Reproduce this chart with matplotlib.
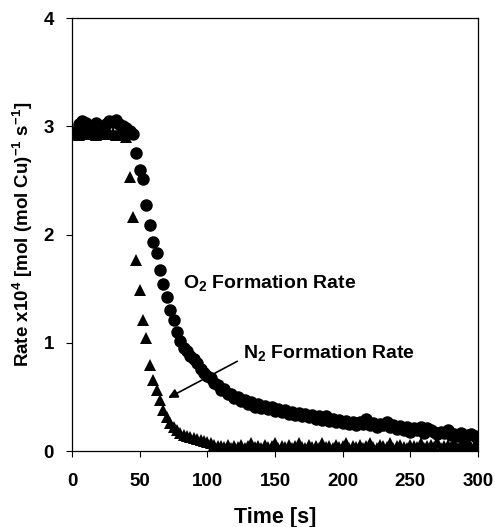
import matplotlib
matplotlib.use("Agg")
import matplotlib.pyplot as plt

plt.rcParams['font.family'] = ['Liberation Sans', 'DejaVu Sans']
plt.rcParams['font.weight'] = 'bold'
plt.rcParams['mathtext.fontset'] = 'custom'
plt.rcParams['mathtext.rm'] = 'Liberation Sans:bold'
plt.rcParams['mathtext.it'] = 'Liberation Sans:bold'
plt.rcParams['mathtext.bf'] = 'Liberation Sans:bold'
plt.rcParams['mathtext.default'] = 'rm'

# time grid [s]
time_s = [0, 2.5, 5, 7.5, 10, 12.5, 15, 17.5, 20, 22.5, 25, 27.5, 30, 32.5, 35, 37.5,
          40, 42.5, 45, 47.5, 50, 52.5, 55, 57.5, 60, 62.5, 65, 67.5, 70, 72.5, 75, 77.5,
          80, 82.5, 85, 87.5, 90, 92.5, 95, 97.5, 100, 102.5, 105, 107.5, 110, 112.5,
          115, 117.5, 120, 122.5, 125, 127.5, 130, 132.5, 135, 137.5, 140, 142.5, 145,
          147.5, 150, 152.5, 155, 157.5, 160, 162.5, 165, 167.5, 170, 172.5, 175, 177.5,
          180, 182.5, 185, 187.5, 190, 192.5, 195, 197.5, 200, 202.5, 205, 207.5, 210,
          212.5, 215, 217.5, 220, 222.5, 225, 227.5, 230, 232.5, 235, 237.5, 240, 242.5,
          245, 247.5, 250, 252.5, 255, 257.5, 260, 262.5, 265, 267.5, 270, 272.5, 275,
          277.5, 280, 282.5, 285, 287.5, 290, 292.5, 295, 297.5, 300]

# O2 formation rate x1e4
o2_rate = [2.95, 2.93, 3.02, 3.05, 3.03, 2.97, 3.00, 3.03, 2.98, 2.96, 3.02, 3.05, 3.04, 3.06,
           3.02, 3.00, 2.98, 2.96, 2.93, 2.75, 2.60, 2.51, 2.27, 2.09, 1.93, 1.83, 1.67, 1.54,
           1.42, 1.30, 1.21, 1.10, 1.02, 0.95, 0.92, 0.88, 0.85, 0.81, 0.76, 0.72, 0.69, 0.67,
           0.63, 0.61, 0.56, 0.57, 0.53, 0.53, 0.49, 0.50, 0.46, 0.47, 0.43, 0.45, 0.41, 0.43,
           0.40, 0.42, 0.39, 0.41, 0.37, 0.39, 0.36, 0.38, 0.34, 0.36, 0.33, 0.35, 0.32, 0.34,
           0.31, 0.33, 0.30, 0.32, 0.29, 0.32, 0.28, 0.30, 0.27, 0.29, 0.26, 0.28, 0.25, 0.27,
           0.24, 0.27, 0.25, 0.30, 0.24, 0.26, 0.22, 0.25, 0.24, 0.27, 0.22, 0.24, 0.20, 0.23,
           0.19, 0.22, 0.18, 0.21, 0.19, 0.22, 0.17, 0.21, 0.19, 0.18, 0.16, 0.18, 0.17, 0.19,
           0.15, 0.16, 0.14, 0.17, 0.13, 0.15, 0.16, 0.14, 0.10]

# N2 formation rate x1e4
n2_rate = [2.93, 2.95, 2.92, 2.96, 2.94, 2.93, 2.95, 2.92, 2.94, 2.96, 2.93, 2.95, 2.94, 2.92,
           2.95, 2.93, 2.90, 2.53, 2.16, 1.76, 1.49, 1.21, 1.04, 0.79, 0.66, 0.56, 0.47, 0.38,
           0.31, 0.26, 0.22, 0.19, 0.17, 0.15, 0.14, 0.13, 0.12, 0.11, 0.10, 0.09, 0.08, 0.07,
           0.06, 0.05, 0.05, 0.04, 0.06, 0.03, 0.05, 0.04, 0.06, 0.03, 0.05, 0.07, 0.04, 0.05,
           0.03, 0.06, 0.04, 0.05, 0.07, 0.03, 0.05, 0.04, 0.06, 0.03, 0.05, 0.07, 0.04, 0.03,
           0.06, 0.04, 0.05, 0.03, 0.07, 0.04, 0.05, 0.03, 0.06, 0.04, 0.05, 0.07, 0.03, 0.05,
           0.04, 0.06, 0.03, 0.05, 0.07, 0.04, 0.03, 0.06, 0.05, 0.04, 0.07, 0.03, 0.05, 0.06,
           0.04, 0.03, 0.06, 0.05, 0.04, 0.07, 0.03, 0.05, 0.06, 0.04, 0.08, 0.03, 0.05, 0.06,
           0.04, 0.07, 0.03, 0.06, 0.05, 0.08, 0.04, 0.06, 0.03]

fig = plt.figure(figsize=(4.95, 5.27), dpi=100)
ax = fig.add_axes([0.1455, 0.1442, 0.8202, 0.8216])

ax.plot(time_s, o2_rate, 'o', color='black', markersize=9, markeredgewidth=0)
ax.plot(time_s, n2_rate, '^', color='black', markersize=9, markeredgewidth=0)

ax.set_xlim(0, 300)
ax.set_ylim(0, 4)
ax.set_xticks([0, 50, 100, 150, 200, 250, 300])
ax.set_yticks([0, 1, 2, 3, 4])
ax.tick_params(axis='x', direction='out', length=4, width=0.8, pad=12, labelsize=13.5)
ax.tick_params(axis='y', direction='out', length=4, width=0.8, pad=9, labelsize=13.5)
for s in ax.spines.values():
    s.set_linewidth(0.9)

ax.set_xlabel('Time [s]', fontsize=15.5, fontweight='bold', labelpad=12)
ax.set_ylabel('Rate x10$^4$ [mol (mol Cu)$^{-1}$ s$^{-1}$]', fontsize=13.5,
              fontweight='bold', labelpad=6)

ax.text(82, 1.55, 'O$_2$ Formation Rate', fontsize=14, fontweight='bold', va='center')
ax.annotate('N$_2$ Formation Rate', xy=(71, 0.49), xytext=(126, 0.91),
            fontsize=14, fontweight='bold', va='center',
            arrowprops=dict(arrowstyle='-|>', color='black', lw=1.2,
                            mutation_scale=14, shrinkA=2, shrinkB=0,
                            relpos=(0, 0.2)))

fig.savefig('out.png', dpi=100)
